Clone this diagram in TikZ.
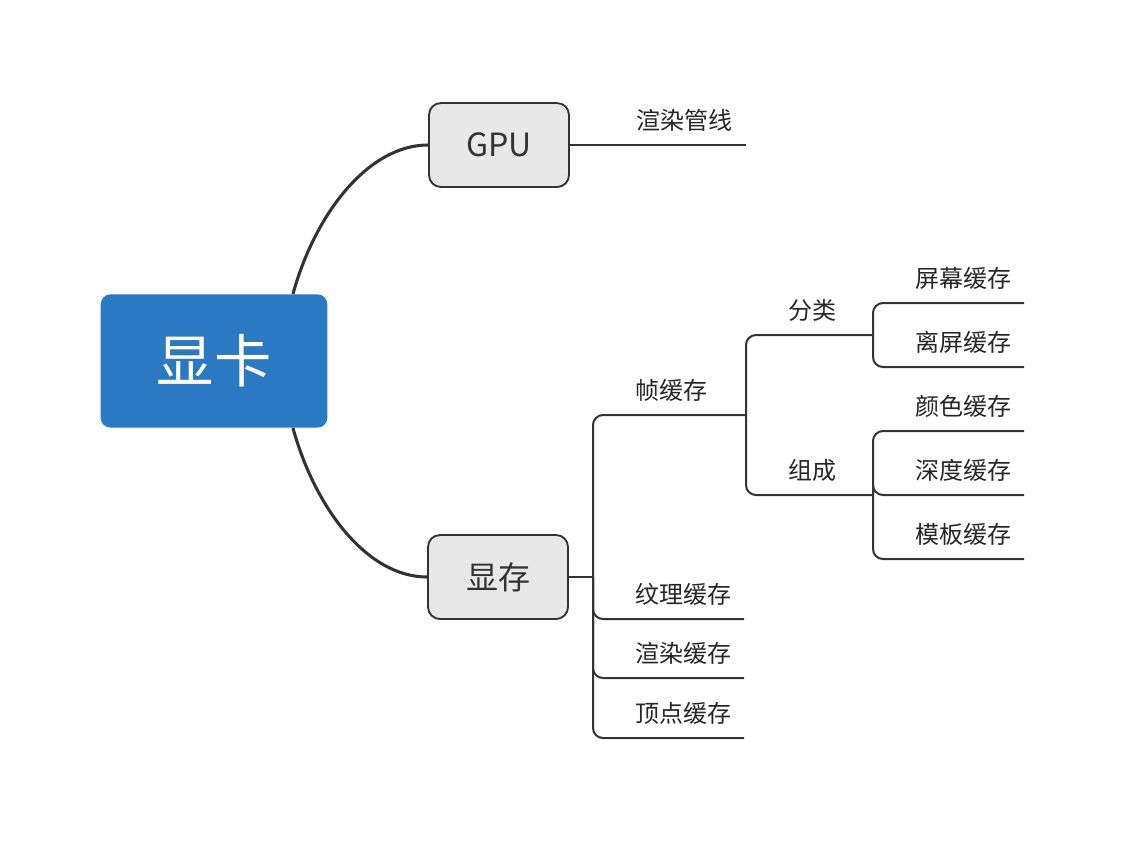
\documentclass[tikz,border=0pt]{standalone}
\usepackage{fontspec}
\setmainfont{Noto Sans CJK SC}
\usetikzlibrary{positioning}
\definecolor{rootblue}{HTML}{2B79C2}
\definecolor{topicgray}{HTML}{E8E8E8}
\definecolor{linegray}{HTML}{333333}

\begin{document}
\begin{tikzpicture}[
    x=0.75pt, y=-0.75pt,
    root/.style={rectangle, rounded corners=7.5pt, fill=rootblue, text=white, minimum width=170pt, minimum height=100pt, font=\fontsize{43}{50}\selectfont},
    topic/.style={rectangle, draw=linegray, line width=1.4pt, rounded corners=9pt, fill=topicgray, minimum width=105pt, minimum height=63pt, font=\fontsize{24}{28}\selectfont, text=linegray},
    leaf/.style={anchor=west, inner sep=0pt, font=\fontsize{18}{22}\selectfont, text=black!85},
    curve/.style={draw=linegray, line width=2.3pt},
    branch/.style={draw=linegray, line width=1.5pt, rounded corners=7.5pt}
]
\useasboundingbox (0,0) rectangle (1124,840);

% ==== Main topics ====
\node[root] (xianka) at (214,361) {显卡};
\node[topic] (gpu) at (499,145) {GPU};
\node[topic] (xiancun) at (498,577) {显存};

\draw[curve] ([xshift=-26pt]xianka.north east) .. controls +(22,-80) and +(-60,0) .. (gpu.west);
\draw[curve] ([xshift=-26pt]xianka.south east) .. controls +(22,80) and +(-60,0) .. (xiancun.west);

% ==== GPU ====
\coordinate (guanxian-end) at (746,145);
\draw[branch] (gpu) -- (guanxian-end);
\node[leaf] (guanxian) at (636,120) {渲染管线};

% ==== 显存 ====
\coordinate (xc-j) at (593,577);
\coordinate (zhen-end) at (746,415);
\coordinate (wenli-end) at (744,619);
\coordinate (xuanran-end) at (744,678);
\coordinate (dingdian-end) at (744,738);
\draw[branch] (xiancun) -- (xc-j);
\draw[branch] (xc-j) |- (zhen-end);
\draw[branch] (xc-j) |- (wenli-end);
\draw[branch] (xc-j) |- (xuanran-end);
\draw[branch] (xc-j) |- (dingdian-end);
\node[leaf] (zhen) at (635,390) {帧缓存};
\node[leaf] (wenli) at (635,594) {纹理缓存};
\node[leaf] (xuanran) at (635,653) {渲染缓存};
\node[leaf] (dingdian) at (635,713) {顶点缓存};

% ==== 帧缓存 ====
\coordinate (fenlei-end) at (873,335);
\coordinate (zucheng-end) at (873,495);
\draw[branch] (zhen-end) |- (fenlei-end);
\draw[branch] (zhen-end) |- (zucheng-end);
\node[leaf] (fenlei) at (788,310) {分类};
\node[leaf] (zucheng) at (788,470) {组成};

% ==== 分类 / 组成 ====
\coordinate (pingmu-end) at (1024,303);
\coordinate (liping-end) at (1024,367);
\coordinate (yanse-end) at (1024,431);
\coordinate (shendu-end) at (1024,495);
\coordinate (muban-end) at (1024,559);
\draw[branch] (fenlei-end) |- (pingmu-end);
\draw[branch] (fenlei-end) |- (liping-end);
\draw[branch] (zucheng-end) |- (yanse-end);
\draw[branch] (zucheng-end) |- (shendu-end);
\draw[branch] (zucheng-end) |- (muban-end);
\node[leaf] (pingmu) at (915,278) {屏幕缓存};
\node[leaf] (liping) at (915,342) {离屏缓存};
\node[leaf] (yanse) at (915,406) {颜色缓存};
\node[leaf] (shendu) at (915,470) {深度缓存};
\node[leaf] (muban) at (915,534) {模板缓存};

\end{tikzpicture}
\end{document}
